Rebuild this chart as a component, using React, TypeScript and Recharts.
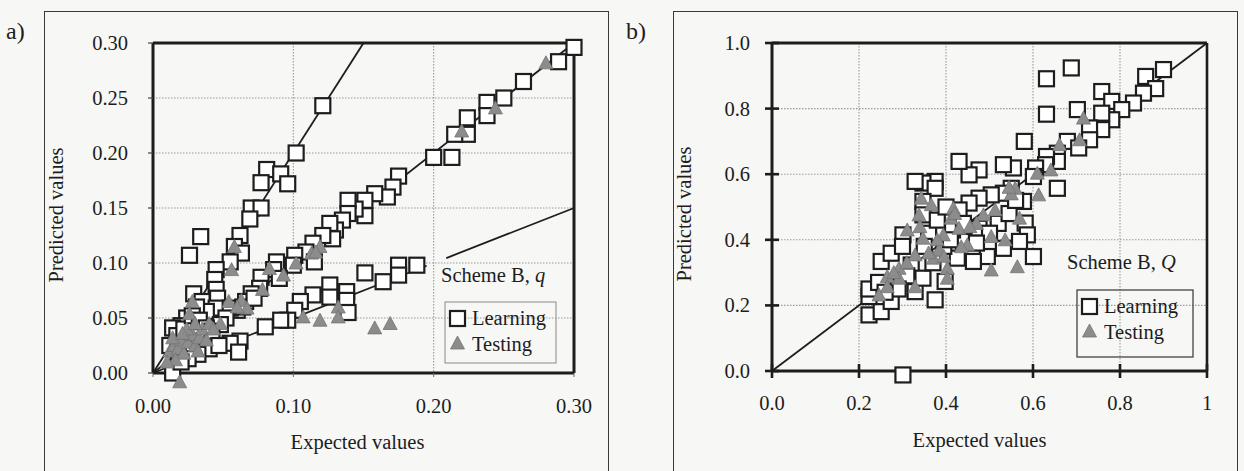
import React from 'react';
import { ScatterChart, Scatter, XAxis, YAxis, CartesianGrid, ReferenceLine } from 'recharts';

const FONT = '"Liberation Serif", "DejaVu Serif", "Noto Serif", serif';
const INK = '#1d1d1d';
const PAPER = '#f7f7f5';
const GRID = '#9a9a9a';
const TRI_FILL = '#8c8c8c';

// ---------- Panel a: Scheme B, q ----------
const aTicksX = [0, 0.1, 0.2, 0.3];
const aTicksY = [0, 0.05, 0.1, 0.15, 0.2, 0.25, 0.3];

const aLearning: [number, number][] = [
  // upper band (about twice the expected value)
  [0.121, 0.243], [0.102, 0.2], [0.081, 0.185], [0.091, 0.181], [0.077, 0.173], [0.096, 0.172],
  [0.07, 0.15], [0.077, 0.15], [0.069, 0.14], [0.062, 0.125], [0.034, 0.124], [0.026, 0.107],
  [0.058, 0.115], [0.063, 0.109], [0.055, 0.101], [0.045, 0.094], [0.044, 0.085], [0.045, 0.076],
  [0.029, 0.072], [0.035, 0.065], [0.046, 0.068], [0.045, 0.059], [0.038, 0.056], [0.031, 0.06],
  [0.024, 0.05], [0.02, 0.043], [0.014, 0.041], [0.017, 0.034], [0.012, 0.025], [0.022, 0.04],
  [0.028, 0.052], [0.033, 0.048],
  // central band
  [0.3, 0.296], [0.289, 0.283], [0.264, 0.265], [0.25, 0.25], [0.238, 0.246], [0.238, 0.234],
  [0.224, 0.232], [0.224, 0.217], [0.215, 0.217], [0.213, 0.196], [0.2, 0.196], [0.175, 0.179],
  [0.171, 0.169], [0.167, 0.16], [0.158, 0.163], [0.151, 0.157], [0.151, 0.143], [0.144, 0.149],
  [0.139, 0.157], [0.139, 0.145], [0.135, 0.139], [0.13, 0.13], [0.126, 0.136], [0.128, 0.122],
  [0.121, 0.125], [0.114, 0.118], [0.109, 0.11], [0.115, 0.101], [0.101, 0.107], [0.1, 0.098],
  [0.088, 0.101], [0.086, 0.094], [0.09, 0.086], [0.077, 0.087], [0.076, 0.077], [0.07, 0.072],
  [0.066, 0.065], [0.06, 0.057], [0.055, 0.059], [0.052, 0.05], [0.048, 0.044], [0.038, 0.041],
  [0.032, 0.033], [0.027, 0.029], [0.022, 0.024], [0.018, 0.019], [0.042, 0.038], [0.064, 0.06],
  [0.072, 0.068],
  // lower band (about half the expected value)
  [0.188, 0.098], [0.175, 0.098], [0.175, 0.089], [0.164, 0.083], [0.151, 0.091], [0.126, 0.08],
  [0.114, 0.071], [0.126, 0.069], [0.138, 0.074], [0.138, 0.066], [0.139, 0.055], [0.105, 0.065],
  [0.101, 0.057], [0.096, 0.048], [0.091, 0.048], [0.08, 0.042], [0.062, 0.029], [0.055, 0.027],
  [0.061, 0.019], [0.014, 0.0], [0.04, 0.022], [0.032, 0.017], [0.025, 0.013], [0.047, 0.025],
  [0.02, 0.01],
];

const aTesting: [number, number][] = [
  [0.019, -0.008], [0.058, 0.115], [0.056, 0.094], [0.083, 0.095], [0.093, 0.089], [0.102, 0.1],
  [0.113, 0.109], [0.119, 0.115], [0.078, 0.076], [0.054, 0.065], [0.063, 0.066], [0.067, 0.059],
  [0.06, 0.06], [0.107, 0.051], [0.119, 0.048], [0.132, 0.06], [0.132, 0.051], [0.158, 0.041],
  [0.169, 0.045], [0.028, 0.065], [0.026, 0.054], [0.048, 0.045], [0.28, 0.282], [0.244, 0.241],
  [0.22, 0.22], [0.116, 0.11],
  [0.012, 0.02], [0.015, 0.025], [0.018, 0.022], [0.02, 0.03], [0.022, 0.018], [0.025, 0.028],
  [0.028, 0.035], [0.03, 0.025], [0.033, 0.032], [0.035, 0.04], [0.038, 0.03], [0.04, 0.045],
  [0.016, 0.012], [0.024, 0.04], [0.03, 0.045], [0.014, 0.032], [0.021, 0.036], [0.032, 0.02],
  [0.043, 0.04], [0.01, 0.01],
];

// reference lines of panel a: y = 2x, y = x, y = x/2 (the last one broken by the caption)
const aSteepLine = [{ x: 0, y: 0 }, { x: 0.15, y: 0.3 }];
const aUnitLine = [{ x: 0, y: 0 }, { x: 0.3, y: 0.3 }];
const aHalfLineLow = [{ x: 0, y: 0 }, { x: 0.195, y: 0.0975 }];
const aHalfLineHigh = [{ x: 0.209, y: 0.1045 }, { x: 0.3, y: 0.15 }];

// ---------- Panel b: Scheme B, Q ----------
const bTicks = [0, 0.2, 0.4, 0.6, 0.8, 1];

const bLearning: [number, number][] = [
  [0.688, 0.924], [0.631, 0.891], [0.631, 0.783], [0.58, 0.7], [0.702, 0.797], [0.9, 0.919],
  [0.859, 0.898], [0.882, 0.861], [0.854, 0.847], [0.758, 0.852], [0.781, 0.822], [0.831, 0.817],
  [0.804, 0.797], [0.781, 0.766], [0.758, 0.786], [0.758, 0.736], [0.73, 0.741], [0.73, 0.705],
  [0.679, 0.7], [0.705, 0.68], [0.656, 0.664], [0.656, 0.639], [0.631, 0.654], [0.629, 0.629],
  [0.606, 0.619], [0.601, 0.593], [0.656, 0.557], [0.555, 0.619], [0.532, 0.629], [0.476, 0.613],
  [0.453, 0.598], [0.43, 0.639], [0.55, 0.557], [0.578, 0.517], [0.532, 0.542], [0.504, 0.537],
  [0.476, 0.527], [0.453, 0.512], [0.43, 0.491], [0.375, 0.578], [0.347, 0.573], [0.329, 0.578],
  [0.375, 0.557], [0.347, 0.517], [0.347, 0.476], [0.582, 0.451], [0.587, 0.415], [0.601, 0.349],
  [0.569, 0.395], [0.532, 0.374], [0.495, 0.349], [0.463, 0.334], [0.426, 0.344], [0.44, 0.395],
  [0.476, 0.435], [0.398, 0.273], [0.375, 0.217], [0.329, 0.242], [0.301, -0.012], [0.223, 0.171],
  [0.251, 0.181], [0.223, 0.227], [0.251, 0.334], [0.274, 0.359], [0.274, 0.212], [0.301, 0.415],
  [0.32, 0.323], [0.347, 0.283], [0.223, 0.25], [0.245, 0.27], [0.3, 0.38], [0.36, 0.42],
  [0.38, 0.46], [0.4, 0.5], [0.415, 0.43], [0.395, 0.38], [0.37, 0.33], [0.31, 0.29],
  [0.29, 0.25], [0.26, 0.24], [0.52, 0.45], [0.545, 0.48], [0.5, 0.42], [0.47, 0.39],
  [0.44, 0.45], [0.41, 0.4], [0.56, 0.52], [0.35, 0.38],
];

const bTesting: [number, number][] = [
  [0.716, 0.771], [0.707, 0.705], [0.661, 0.69], [0.641, 0.613], [0.61, 0.603], [0.613, 0.537],
  [0.559, 0.557], [0.569, 0.466], [0.564, 0.318], [0.504, 0.308], [0.536, 0.4], [0.504, 0.41],
  [0.513, 0.491], [0.486, 0.476], [0.449, 0.385], [0.435, 0.379], [0.417, 0.496], [0.412, 0.466],
  [0.43, 0.435], [0.394, 0.415], [0.403, 0.313], [0.403, 0.283], [0.366, 0.507], [0.343, 0.527],
  [0.338, 0.476], [0.347, 0.405], [0.311, 0.43], [0.329, 0.354], [0.292, 0.313], [0.292, 0.283],
  [0.265, 0.288], [0.246, 0.232], [0.265, 0.257], [0.329, 0.257], [0.371, 0.344], [0.384, 0.369],
  [0.55, 0.54], [0.545, 0.56], [0.47, 0.45], [0.38, 0.4], [0.36, 0.36], [0.31, 0.33],
  [0.28, 0.3], [0.34, 0.44], [0.42, 0.48], [0.455, 0.44], [0.395, 0.35],
];

const bUnitLine = [{ x: 0, y: 0 }, { x: 1, y: 1 }];

const toPoints = (rows: [number, number][]) => rows.map(([x, y]) => ({ x, y }));

// ---------- marks ----------
const SQ = 15;
const SquareMark = (p: any) => (
  <rect x={p.cx - SQ / 2} y={p.cy - SQ / 2} width={SQ} height={SQ} fill="#fff" stroke={INK} strokeWidth={2.2} />
);
const TriangleMark = (p: any) => (
  <path
    d={`M${p.cx},${p.cy - 7} L${p.cx + 7},${p.cy + 6} L${p.cx - 7},${p.cy + 6} Z`}
    fill={TRI_FILL}
    stroke="#747474"
    strokeWidth={0.8}
  />
);

const FS = 20.5;
const textStyle = { fontFamily: FONT, fontSize: FS, fill: INK } as const;

// ---------- ticks ----------
const fmt2 = (v: number) => v.toFixed(2);
const fmtBX = (v: number) => (v === 1 ? '1' : v.toFixed(1));
const fmtBY = (v: number) => v.toFixed(1);

const TickAX = (p: any) => (
  <text x={p.x} y={p.y} dy="0.71em" textAnchor="middle" {...textStyle}>{fmt2(p.payload.value)}</text>
);
const TickAY = (p: any) => (
  <text x={p.x} y={p.y} dy="0.34em" textAnchor="end" {...textStyle}>{fmt2(p.payload.value)}</text>
);

// panel b ticks cross the axis line
const B_TICK = 7;
const B_MARGIN_X = 17;
const B_MARGIN_Y = 15;
const TickBX = (p: any) => {
  const axisY = p.y - B_TICK - B_MARGIN_X;
  return (
    <g>
      <line x1={p.x} x2={p.x} y1={axisY - B_TICK} y2={axisY + B_TICK} stroke={INK} strokeWidth={2.6} />
      <text x={p.x} y={p.y} dy="0.71em" textAnchor="middle" {...textStyle}>{fmtBX(p.payload.value)}</text>
    </g>
  );
};
const TickBY = (p: any) => {
  const axisX = p.x + B_TICK + B_MARGIN_Y;
  return (
    <g>
      <line x1={axisX - B_TICK} x2={axisX + B_TICK} y1={p.y} y2={p.y} stroke={INK} strokeWidth={2.6} />
      <text x={p.x} y={p.y} dy="0.34em" textAnchor="end" {...textStyle}>{fmtBY(p.payload.value)}</text>
    </g>
  );
};

// ---------- axis titles ----------
const xTitle = (shift: number) => (p: any) => {
  const vb = p.viewBox;
  return (
    <text x={vb.x + vb.width / 2 + shift} y={vb.y + 75.5} textAnchor="middle" {...textStyle}>
      Expected values
    </text>
  );
};
const yTitle = (gap: number) => (p: any) => {
  const vb = p.viewBox;
  const cx = vb.x + vb.width - gap;
  const cy = vb.y + vb.height / 2 + 7;
  return (
    <text x={cx} y={cy} textAnchor="middle" transform={`rotate(-90 ${cx} ${cy})`} {...textStyle}>
      Predicted values
    </text>
  );
};

const Frame = ({ left }: { left: number }) => (
  <div
    style={{
      position: 'absolute',
      left,
      top: 11,
      width: 565,
      height: 490,
      border: '1.5px solid #3a3a3a',
      boxSizing: 'border-box',
    }}
  />
);

function PanelA() {
  return (
    <ScatterChart width={620} height={471} margin={{ top: 43, right: 46, bottom: 38, left: 93 }}>
      <CartesianGrid stroke={GRID} strokeDasharray="1.5 1.5" strokeWidth={1.1} />
      <XAxis
        type="number"
        dataKey="x"
        domain={[0, 0.3]}
        ticks={aTicksX}
        allowDataOverflow
        interval={0}
        height={60}
        axisLine={{ stroke: INK, strokeWidth: 3 }}
        tickLine={{ stroke: '#666', strokeWidth: 1 }}
        tickSize={4}
        tickMargin={21}
        tick={TickAX}
        label={xTitle(-6)}
      />
      <YAxis
        type="number"
        dataKey="y"
        domain={[0, 0.3]}
        ticks={aTicksY}
        allowDataOverflow
        interval={0}
        width={60}
        axisLine={{ stroke: INK, strokeWidth: 3 }}
        tickLine={{ stroke: '#444', strokeWidth: 1.2 }}
        tickSize={5}
        tickMargin={20}
        tick={TickAY}
        label={yTitle(96.5 - 6.6)}
      />
      <ReferenceLine y={0.3} stroke={INK} strokeWidth={3} />
      <ReferenceLine x={0.3} stroke={INK} strokeWidth={3} />
      <ReferenceLine segment={aSteepLine} stroke={INK} strokeWidth={1.8} />
      <ReferenceLine segment={aUnitLine} stroke={INK} strokeWidth={1.8} />
      <ReferenceLine segment={aHalfLineLow} stroke={INK} strokeWidth={1.8} />
      <ReferenceLine segment={aHalfLineHigh} stroke={INK} strokeWidth={1.8} />
      <Scatter name="Learning" data={toPoints(aLearning)} shape={SquareMark} isAnimationActive={false} />
      <Scatter name="Testing" data={toPoints(aTesting)} shape={TriangleMark} isAnimationActive={false} />
    </ScatterChart>
  );
}

function PanelB() {
  return (
    <ScatterChart width={624} height={471} margin={{ top: 43, right: 37, bottom: 40, left: 92 }}>
      <CartesianGrid stroke={GRID} strokeDasharray="1.5 1.5" strokeWidth={1.1} />
      <XAxis
        type="number"
        dataKey="x"
        domain={[0, 1]}
        ticks={bTicks}
        allowDataOverflow
        interval={0}
        height={60}
        axisLine={{ stroke: INK, strokeWidth: 3 }}
        tickLine={false}
        tickSize={B_TICK}
        tickMargin={B_MARGIN_X}
        tick={TickBX}
        label={xTitle(-10)}
      />
      <YAxis
        type="number"
        dataKey="y"
        domain={[0, 1]}
        ticks={bTicks}
        allowDataOverflow
        interval={0}
        width={60}
        axisLine={{ stroke: INK, strokeWidth: 3 }}
        tickLine={false}
        tickSize={B_TICK}
        tickMargin={B_MARGIN_Y}
        tick={TickBY}
        label={yTitle(87.4 - 6.6)}
      />
      <ReferenceLine y={1} stroke={INK} strokeWidth={3} />
      <ReferenceLine x={1} stroke={INK} strokeWidth={2.6} />
      <ReferenceLine segment={bUnitLine} stroke={INK} strokeWidth={1.8} />
      <Scatter name="Learning" data={toPoints(bLearning)} shape={SquareMark} isAnimationActive={false} />
      <Scatter name="Testing" data={toPoints(bTesting)} shape={TriangleMark} isAnimationActive={false} />
    </ScatterChart>
  );
}

const LegendKey = ({ x, y, w, h, stroke, sw }: { x: number; y: number; w: number; h: number; stroke: string; sw: number }) => (
  <g>
    <rect x={x} y={y} width={w} height={h} fill="none" stroke={stroke} strokeWidth={sw} />
    <SquareMark cx={x + 12.5} cy={y + 16.5} />
    <text x={x + 27} y={y + 16.5} dy="0.34em" {...textStyle}>Learning</text>
    <TriangleMark cx={x + 12.5} cy={y + 41} />
    <text x={x + 27} y={y + 42} dy="0.34em" {...textStyle}>Testing</text>
  </g>
);

export default function App() {
  return (
    <div
      style={{
        position: 'fixed',
        left: 0,
        top: 0,
        width: 1244,
        height: 471,
        overflow: 'hidden',
        background: PAPER,
        fontFamily: FONT,
      }}
    >
      <style>{'.recharts-scatter{clip-path:none !important}'}</style>
      <Frame left={44} />
      <Frame left={673} />
      <div style={{ position: 'absolute', left: 0, top: 0 }}>
        <PanelA />
      </div>
      <div style={{ position: 'absolute', left: 620, top: 0 }}>
        <PanelB />
      </div>
      <svg
        width={1244}
        height={471}
        style={{ position: 'absolute', left: 0, top: 0, pointerEvents: 'none' }}
      >
        <text x={6} y={39} {...textStyle} fontSize={24}>a)</text>
        <text x={626} y={39} {...textStyle} fontSize={24}>b)</text>
        <text x={441} y={281.5} {...textStyle}>
          Scheme B, <tspan fontStyle="italic">q</tspan>
        </text>
        <LegendKey x={445} y={302} w={111} h={61} stroke="#8a8a8a" sw={1} />
        <text x={1067} y={268.5} {...textStyle}>
          Scheme B, <tspan fontStyle="italic">Q</tspan>
        </text>
        <LegendKey x={1077} y={290} w={116} h={67} stroke="#444" sw={1.3} />
      </svg>
    </div>
  );
}
